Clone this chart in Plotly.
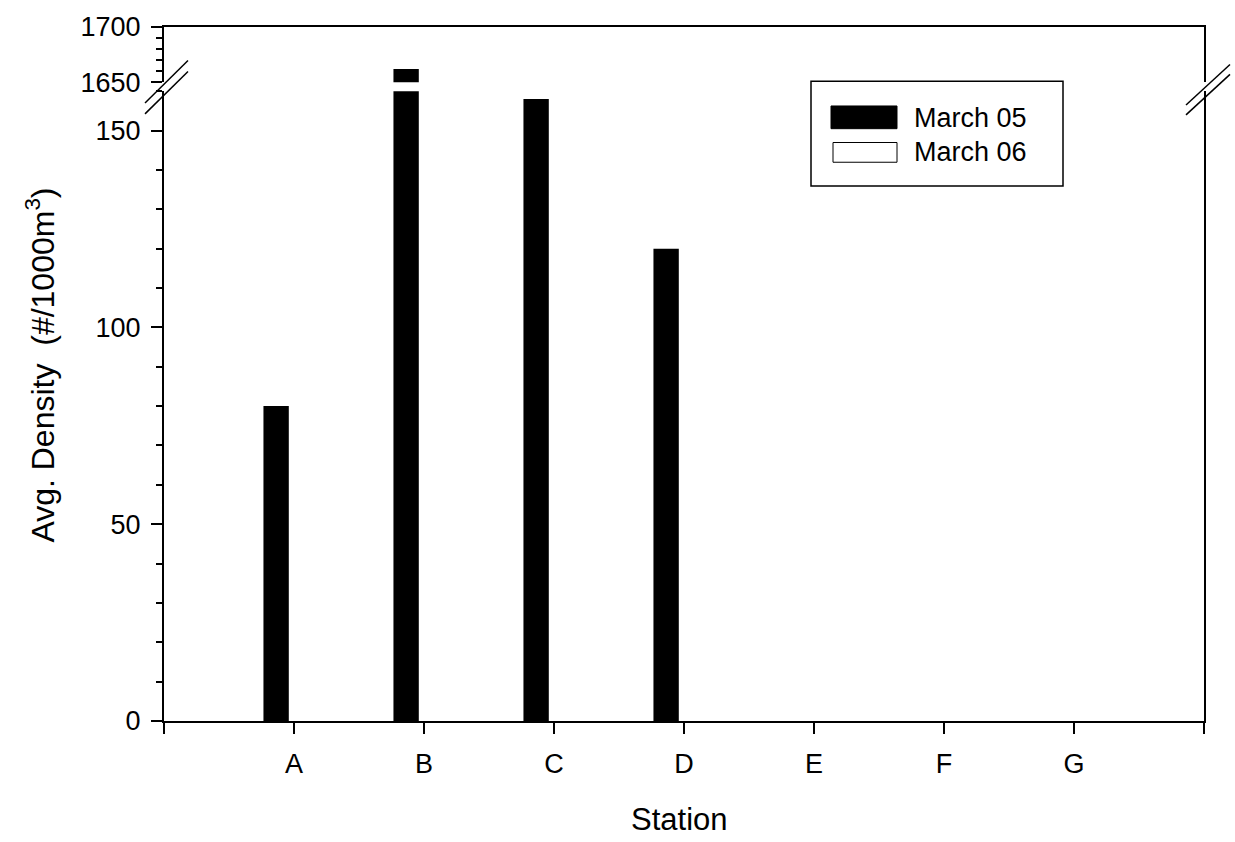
import plotly.graph_objects as go

# Station densities (#/1000 m^3), two sampling dates
stations = ["A", "B", "C", "D", "E", "F", "G"]
march05 = [80, 1662, 158, 120, 0, 0, 0]
march06 = [0, 0, 0, 0, 0, 0, 0]
series_names = ["March 05", "March 06"]

lower_ticks = [0, 50, 100, 150]
upper_ticks = [1650, 1700]
lower_range = [0, 160]
upper_range = [1650, 1700]

FONT = "Liberation Sans, Arial, Helvetica, sans-serif"
W, H = 1235, 842
L, R, T, B = 164, 1204, 18, 721      # plot-area edges (px)
LOWER_TOP, UPPER_BOTTOM = 83, 74     # rows where the two panels of the broken axis end


def px(xp):
    return (xp - L) / (R - L)


def py(yp):
    return (B - yp) / (B - T)


pos = list(range(1, len(stations) + 1))

fig = go.Figure()
for xa, ya in (("x", "y"), ("x2", "y2")):
    fig.add_trace(go.Bar(
        x=pos, y=march05, name=series_names[0], xaxis=xa, yaxis=ya,
        width=0.195, offset=-0.235,
        marker=dict(color="black", line=dict(width=0)),
        showlegend=False,
    ))
    fig.add_trace(go.Bar(
        x=pos, y=march06, name=series_names[1], xaxis=xa, yaxis=ya,
        width=0.195, offset=0.04,
        marker=dict(color="white", line=dict(width=0)),
        showlegend=False,
    ))

tickfont = dict(family=FONT, size=27, color="black")
common_y = dict(
    showline=True, linewidth=2, linecolor="black", mirror=True,
    ticks="outside", ticklen=11, tickwidth=1.5, tickcolor="black",
    showgrid=False, zeroline=False, tickfont=tickfont, ticklabelstandoff=5,
    minor=dict(dtick=10, ticks="outside", ticklen=6, tickwidth=1.5,
               tickcolor="black", showgrid=False),
)

fig.update_layout(
    width=W, height=H,
    margin=dict(l=L, r=W - R, t=T, b=H - B),
    paper_bgcolor="white", plot_bgcolor="white",
    barmode="overlay",
    showlegend=False,
    font=dict(family=FONT, color="black"),
    xaxis=dict(
        domain=[0, 1], range=[0, len(stations) + 1], anchor="y",
        tickvals=pos, ticktext=stations,
        showline=True, linewidth=2, linecolor="black",
        ticks="outside", ticklen=11, tickwidth=1.5, tickcolor="black",
        minor=dict(tickvals=[0, len(stations) + 1], ticks="outside", ticklen=11,
                   tickwidth=1.5, tickcolor="black", showgrid=False),
        showgrid=False, zeroline=False, tickfont=tickfont, ticklabelstandoff=7,
    ),
    xaxis2=dict(
        domain=[0, 1], range=[0, len(stations) + 1], anchor="y2", side="top",
        showline=True, linewidth=2, linecolor="black",
        showticklabels=False, ticks="", showgrid=False, zeroline=False,
    ),
    yaxis=dict(domain=[0, py(LOWER_TOP)], range=lower_range,
               tickvals=lower_ticks, anchor="x", **common_y),
    yaxis2=dict(domain=[py(UPPER_BOTTOM), 1], range=upper_range,
                tickvals=upper_ticks, anchor="x2", **common_y),
)

shapes = []
# axis-break marks on both vertical edges
for (x0, y0, x1, y1) in [(145, 95, 188, 52), (145, 106, 188, 63),
                         (1186, 97, 1230, 56), (1186, 107, 1230, 66)]:
    shapes.append(dict(type="line", xref="paper", yref="paper",
                       x0=px(x0), y0=py(y0), x1=px(x1), y1=py(y1),
                       line=dict(color="black", width=1.5)))

# legend box with wide swatches
shapes.append(dict(type="rect", xref="paper", yref="paper",
                   x0=px(811), y0=py(179), x1=px(1063), y1=py(73),
                   line=dict(color="black", width=1.5), fillcolor="white"))
shapes.append(dict(type="rect", xref="paper", yref="paper",
                   x0=px(831), y0=py(121), x1=px(897), y1=py(98),
                   line=dict(color="black", width=1), fillcolor="black"))
shapes.append(dict(type="rect", xref="paper", yref="paper",
                   x0=px(833), y0=py(155), x1=px(897), y1=py(135),
                   line=dict(color="black", width=1), fillcolor="white"))
fig.update_layout(shapes=shapes)

legend_font = dict(family=FONT, size=27, color="black")
annotations = [
    dict(text=series_names[0], xref="paper", yref="paper", x=px(912), y=py(110),
         xanchor="left", yanchor="middle", showarrow=False, font=legend_font),
    dict(text=series_names[1], xref="paper", yref="paper", x=px(912), y=py(145),
         xanchor="left", yanchor="middle", showarrow=False, font=legend_font),
    dict(text="Avg. Density\u00a0 (#/1000m<sup>3</sup>)", xref="paper", yref="paper",
         x=px(40), y=py(361), xanchor="center", yanchor="middle", textangle=-90,
         showarrow=False, font=dict(family=FONT, size=32, color="black")),
    dict(text="Station", xref="paper", yref="paper", x=px(679), y=py(821),
         xanchor="center", yanchor="middle", showarrow=False,
         font=dict(family=FONT, size=31, color="black")),
]
fig.update_layout(annotations=annotations)

fig.write_html("out.html")
